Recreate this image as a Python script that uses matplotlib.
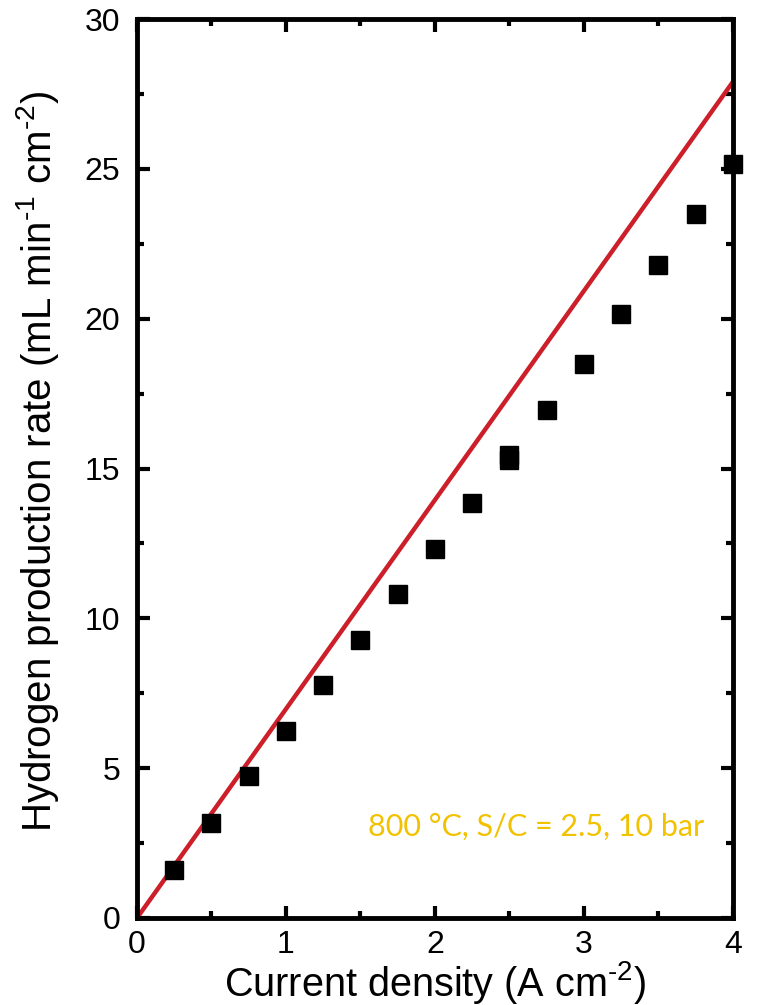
import numpy as np
import matplotlib.pyplot as plt
from matplotlib.ticker import MultipleLocator

# measured H2 production rate
current = [0.25, 0.5, 0.75, 1.0, 1.25, 1.5, 1.75, 2.0, 2.25, 2.5, 2.5,
           2.75, 3.0, 3.25, 3.5, 3.75, 4.0]
h2_rate = [1.6, 3.17, 4.74, 6.24, 7.77, 9.28, 10.81, 12.31, 13.85, 15.28, 15.45,
           16.95, 18.49, 20.15, 21.79, 23.49, 25.16]

# theoretical (Faraday) line
theory_x = [0, 4]
theory_y = [0, 27.9]

note = "800 °C, S/C = 2.5, 10 bar"

plt.rcParams['font.family'] = ['Liberation Sans', 'DejaVu Sans']
plt.rcParams['mathtext.fontset'] = 'custom'
plt.rcParams['mathtext.rm'] = 'Liberation Sans'
plt.rcParams['mathtext.it'] = 'Liberation Sans'
plt.rcParams['mathtext.default'] = 'rm'

fig = plt.figure(figsize=(7.57, 10.05), dpi=100)
ax = fig.add_axes([0.181, 0.0866, 0.787, 0.8944])

ax.plot(theory_x, theory_y, color='#cc1f2a', lw=3.2, solid_capstyle='butt', zorder=2)
ax.plot(current, h2_rate, 's', color='black', ms=13, zorder=3, clip_on=False)

ax.set_xlim(0, 4)
ax.set_ylim(0, 30)
ax.xaxis.set_major_locator(MultipleLocator(1))
ax.xaxis.set_minor_locator(MultipleLocator(0.5))
ax.yaxis.set_major_locator(MultipleLocator(5))
ax.yaxis.set_minor_locator(MultipleLocator(2.5))

for s in ax.spines.values():
    s.set_linewidth(3.5)
ax.tick_params(which='both', direction='in', top=True, right=True, width=3, labelsize=23)
ax.tick_params(which='major', length=9, pad=12)
ax.tick_params(axis='x', which='major', pad=9)
ax.tick_params(which='minor', length=5)

ax.set_xlabel(r'Current density (A cm$^{\text{-2}}$)', fontsize=28.5, va='bottom')
ax.xaxis.set_label_coords(0.5, -0.0975)
ax.set_ylabel(r'Hydrogen production rate (mL min$^{\text{-1}}$ cm$^{\text{-2}}$)', fontsize=29)
ax.yaxis.set_label_coords(-0.128, 0.508)

ax.text(2.68, 3.05, note, color='#f2c200', fontsize=22, family=['Lato', 'DejaVu Sans'],
        ha='center', va='center')

fig.savefig('out.png', dpi=100)
